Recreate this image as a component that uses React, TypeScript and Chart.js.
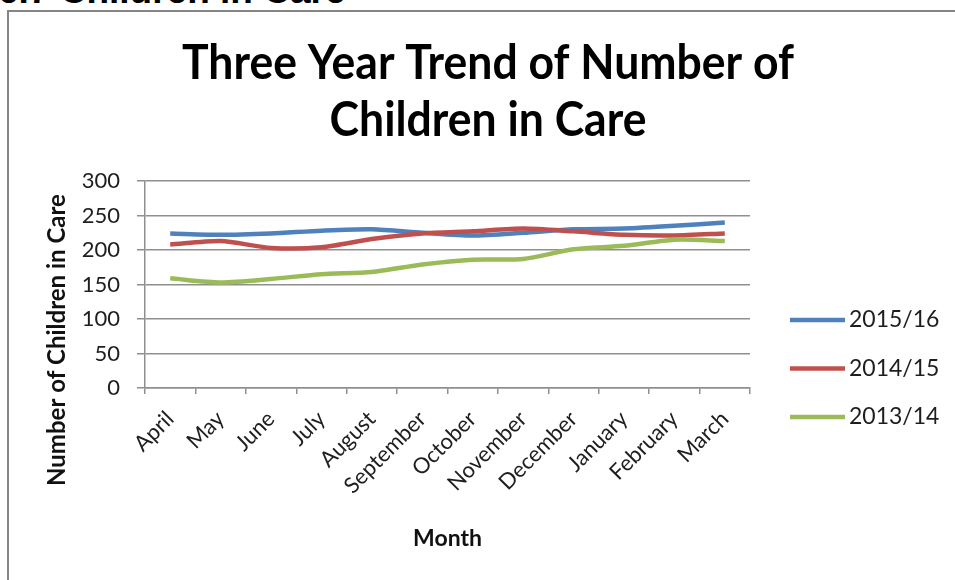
import React, { useEffect, useRef } from "react";
import { Chart, registerables } from "chart.js";

Chart.register(...registerables);

const HEADING = "6.7 Children in Care";
const CHART_TITLE = ["Three Year Trend of Number of", "Children in Care"];
const X_TITLE = "Month";
const Y_TITLE = "Number of Children in Care";

const months = [
  "April", "May", "June", "July", "August", "September",
  "October", "November", "December", "January", "February", "March",
];
const seriesNames = ["2015/16", "2014/15", "2013/14"];
const values2015 = [224, 222, 224, 228, 230, 225, 221, 225, 230, 231, 235, 240];
const values2014 = [208, 213, 203, 204, 216, 224, 227, 231, 227, 222, 221, 224];
const values2013 = [159, 153, 158, 165, 168, 179, 186, 187, 201, 206, 215, 213];
const seriesColors = ["#4F81BD", "#C0504D", "#9BBB59"];
const yMin = 0;
const yMax = 300;
const yStep = 50;

const FONT = "Lato, 'Open Sans', sans-serif";
const TEXT = "#1e1e1e";
const GRID = "#8f8f8f";

const extrasPlugin = {
  id: "extras",
  afterDraw(chart: any) {
    const ctx = chart.ctx as CanvasRenderingContext2D;

    // chart title
    ctx.save();
    ctx.font = `bold 48px ${FONT}`;
    ctx.fillStyle = "#000";
    ctx.textAlign = "center";
    ctx.textBaseline = "middle";
    const w = ctx.measureText(CHART_TITLE[0]).width;
    const sx = 612 / w;
    CHART_TITLE.forEach((line, i) => {
      ctx.save();
      ctx.translate(488, 64 + i * 57);
      ctx.scale(sx, 1);
      ctx.fillText(line, 0, 0);
      ctx.restore();
    });
    ctx.restore();

    // y-axis title
    ctx.save();
    ctx.translate(57, 340);
    ctx.rotate(-Math.PI / 2);
    ctx.font = `bold 24px ${FONT}`;
    ctx.fillStyle = "#111";
    ctx.textAlign = "center";
    ctx.textBaseline = "middle";
    ctx.fillText(Y_TITLE, 0, 0);
    ctx.restore();

    // legend
    ctx.save();
    chart.data.datasets.forEach((ds: any, i: number) => {
      const y = 320 + i * 48.5;
      ctx.strokeStyle = ds.borderColor;
      ctx.lineWidth = 4.5;
      ctx.beginPath();
      ctx.moveTo(790, y);
      ctx.lineTo(845, y);
      ctx.stroke();
      ctx.font = `23px ${FONT}`;
      ctx.fillStyle = TEXT;
      ctx.textAlign = "left";
      ctx.textBaseline = "middle";
      ctx.fillText(ds.label, 849, y);
    });
    ctx.restore();
  },
};

export default function App() {
  const ref = useRef<HTMLCanvasElement | null>(null);

  useEffect(() => {
    if (!ref.current) return;
    const allValues = [values2015, values2014, values2013];
    const chart = new Chart(ref.current, {
      type: "line",
      data: {
        labels: months,
        datasets: allValues.map((vals, i) => ({
          label: seriesNames[i],
          data: vals,
          borderColor: seriesColors[i],
          backgroundColor: seriesColors[i],
          borderWidth: 4.5,
          pointRadius: 0,
          tension: 0.25,
          fill: false,
          order: 2 - i,
        })),
      },
      options: {
        responsive: false,
        animation: false,
        devicePixelRatio: 1,
        layout: { padding: { left: 0, right: 205, top: 181, bottom: 0 } },
        plugins: {
          legend: { display: false },
          tooltip: { enabled: false },
          title: { display: false },
        },
        scales: {
          x: {
            type: "category",
            offset: true,
            grid: {
              offset: true,
              drawOnChartArea: false,
              drawTicks: true,
              tickLength: 6,
              color: GRID,
              lineWidth: 1.5,
            },
            border: { color: GRID, width: 1.5 },
            ticks: {
              color: TEXT,
              font: { family: FONT, size: 22 },
              minRotation: 45,
              maxRotation: 45,
              autoSkip: false,
              padding: 12,
            },
            title: {
              display: true,
              text: X_TITLE,
              color: "#111",
              font: { family: FONT, size: 23, weight: "bold", lineHeight: 1.2 },
              padding: { top: 0, bottom: 28 },
            },
            afterFit: (scale: any) => {
              scale.height = 580 - 388;
            },
          },
          y: {
            min: yMin,
            max: yMax,
            ticks: {
              stepSize: yStep,
              color: TEXT,
              font: { family: FONT, size: 22 },
              padding: 17,
            },
            grid: {
              color: GRID,
              lineWidth: 1.5,
              tickLength: 8,
            },
            border: { color: GRID, width: 1.5 },
            afterFit: (scale: any) => {
              scale.width = 145;
            },
          },
        },
      },
      plugins: [extrasPlugin],
    });
    return () => chart.destroy();
  }, []);

  return (
    <div
      style={{
        position: "fixed",
        left: 0,
        top: 0,
        width: 955,
        height: 580,
        overflow: "hidden",
        background: "#fff",
      }}
    >
      <div
        style={{
          position: "absolute",
          left: -2,
          top: -28,
          fontFamily: "'Liberation Sans', Arial, sans-serif",
          fontWeight: "bold",
          fontSize: 37,
          lineHeight: 1,
          color: "#000",
          whiteSpace: "nowrap",
        }}
      >
        {HEADING}
      </div>
      <div
        style={{
          position: "absolute",
          left: 7,
          top: 10,
          width: 1000,
          height: 600,
          borderLeft: "2px solid #858585",
          borderTop: "2px solid #858585",
        }}
      />
      <canvas
        ref={ref}
        width={955}
        height={580}
        style={{ position: "absolute", left: 0, top: 0, width: 955, height: 580 }}
      />
    </div>
  );
}
